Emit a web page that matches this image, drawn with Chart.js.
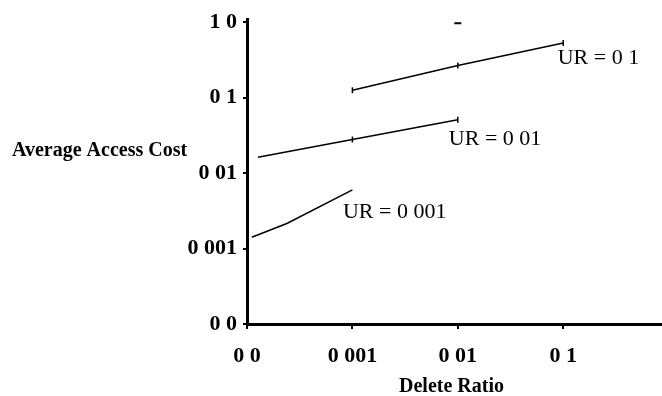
<!DOCTYPE html>
<html>
<head>
<meta charset="utf-8">
<script src="https://cdn.jsdelivr.net/npm/chart.js@4.4.1/dist/chart.umd.min.js"></script>
<style>
  html, body { margin: 0; padding: 0; background: #fff; overflow: hidden; }
  canvas { display: block; }
</style>
</head>
<body>
<canvas id="myChart" width="662" height="396"></canvas>
<script>
// tick positions (the "0 0" slot sits one decade below 0 001)
const xTicks = [0.0001, 0.001, 0.01, 0.1];
const xTickLabels = ["0 0", "0 001", "0 01", "0 1"];
const yTicks = [0.0001, 0.001, 0.01, 0.1, 1];
const yTickLabels = ["0 0", "0 001", "0 01", "0 1", "1 0"];

// curves (delete ratio, average access cost)
const ur0001X = [0.000111, 0.000239, 0.001];
const ur0001Y = [0.00141, 0.00215, 0.0060];
const ur001X = [0.000127, 0.001, 0.01];
const ur001Y = [0.0162, 0.0278, 0.0508];
const ur01X = [0.001, 0.01, 0.1];
const ur01Y = [0.125, 0.266, 0.531];
const markX = [0.01];
const markY = [0.97];

const serif = "'Liberation Serif', 'DejaVu Serif', serif";
const toPts = (xs, ys) => xs.map((x, i) => ({ x: x, y: ys[i] }));

// labels drawn next to the curves + the horizontal axis caption
const textPlugin = {
    id: "curveText",
    afterDatasetsDraw(chart) {
        const c = chart.ctx;
        const xs = chart.scales.x, ys = chart.scales.y;
        c.save();
        c.fillStyle = "#000";
        c.textBaseline = "middle";
        c.textAlign = "left";
        c.font = "22px " + serif;
        [["UR = 0 1", 0.0887, 0.338], ["UR = 0 01", 0.00822, 0.0278], ["UR = 0 001", 0.000813, 0.0030]]
            .forEach(([t, x, y]) => c.fillText(t, xs.getPixelForValue(x), ys.getPixelForValue(y)));
        c.font = "bold 20px " + serif;
        c.fillText("Average Access Cost", 12, 151);
        c.restore();
    },
    afterDraw(chart) {
        // the x axis line runs on to the page edge
        const c = chart.ctx;
        const xs = chart.scales.x;
        const y = Math.round(xs.top - 1.5) + 1.5;
        c.save();
        c.strokeStyle = "#000";
        c.lineWidth = 3;
        c.beginPath();
        c.moveTo(chart.chartArea.left, y);
        c.lineTo(chart.width, y);
        c.stroke();
        c.restore();
    }
};

const lineSet = (label, data, radii) => ({
    label: label,
    data: data,
    borderColor: "#000",
    borderWidth: 1.5,
    pointStyle: "line",
    rotation: 90,
    pointRadius: radii,
    pointBorderColor: "#000",
    pointBorderWidth: 1.5,
    fill: false,
    tension: 0,
});

const ctx = document.getElementById("myChart").getContext("2d");

new Chart(ctx, {
    type: "line",
    data: {
        datasets: [
            lineSet("UR = 0.001", toPts(ur0001X, ur0001Y), [0, 0, 0]),
            lineSet("UR = 0.01", toPts(ur001X, ur001Y), [0, 3, 3]),
            lineSet("UR = 0.1", toPts(ur01X, ur01Y), [3, 3, 3]),
            {
                label: "mark",
                data: toPts(markX, markY),
                showLine: false,
                pointStyle: "line",
                pointRadius: 3.5,
                pointBorderColor: "#000",
                pointBorderWidth: 2,
            },
        ],
    },
    options: {
        responsive: false,
        animation: false,
        layout: { padding: { top: 15, right: 0, left: 0, bottom: 0 } },
        plugins: { legend: { display: false }, tooltip: { enabled: false } },
        scales: {
            x: {
                type: "logarithmic",
                bounds: "data",
                min: 0.0001,
                max: 0.759,
                afterBuildTicks: (s) => { s.ticks = xTicks.map(v => ({ value: v })); },
                afterFit: (s) => { s.height = 72; },
                ticks: {
                    callback: (v, i) => xTickLabels[i],
                    color: "#000",
                    font: { family: serif, size: 22, weight: "bold" },
                    padding: 14,
                    maxRotation: 0,
                    autoSkip: false,
                },
                grid: { drawOnChartArea: false, drawTicks: true, tickLength: 5, color: "#000", lineWidth: 2 },
                border: { display: true, color: "#000", width: 3 },
                title: {
                    display: true,
                    text: "Delete Ratio",
                    color: "#000",
                    font: { family: serif, size: 20, weight: "bold" },
                    padding: { top: 0, bottom: -3 },
                },
            },
            y: {
                type: "logarithmic",
                bounds: "data",
                min: 0.0001,
                max: 1.096,
                afterBuildTicks: (s) => { s.ticks = yTicks.map(v => ({ value: v })); },
                afterFit: (s) => { s.width = 247; },
                ticks: {
                    callback: (v, i) => yTickLabels[i],
                    color: "#000",
                    font: { family: serif, size: 22, weight: "bold" },
                    padding: 6,
                    autoSkip: false,
                },
                grid: { drawOnChartArea: false, drawTicks: true, tickLength: 4, color: "#000", lineWidth: 2 },
                border: { display: true, color: "#000", width: 3 },
            },
        },
    },
    plugins: [textPlugin],
});
</script>
</body>
</html>
